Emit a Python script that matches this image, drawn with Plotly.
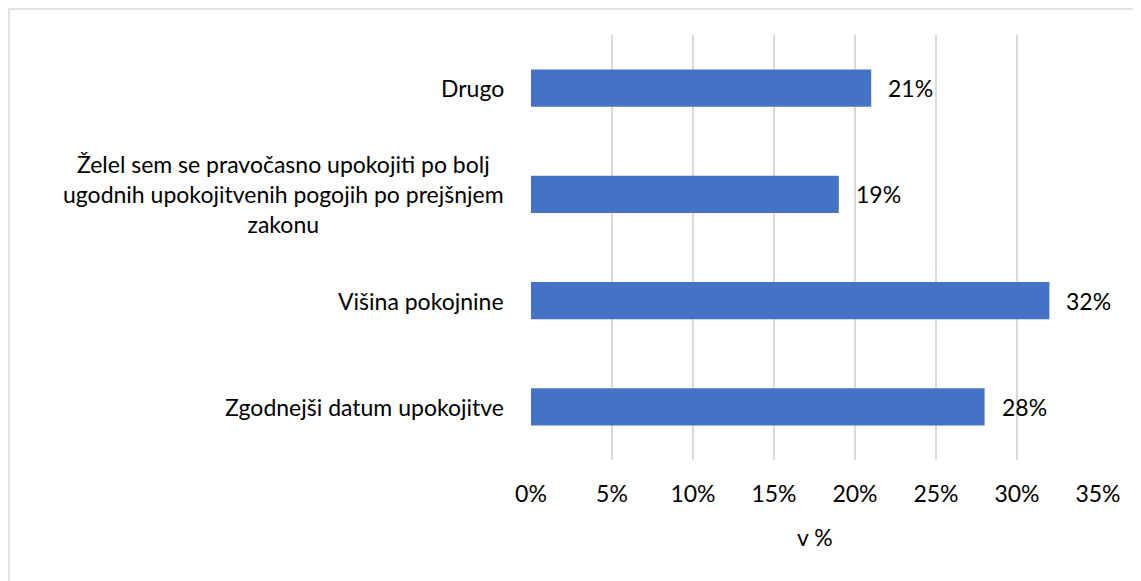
import plotly.graph_objects as go

categories = [
    "Zgodnejši datum upokojitve",
    "Višina pokojnine",
    "Želel sem se pravočasno upokojiti po bolj<br>ugodnih upokojitvenih pogojih po prejšnjem<br>zakonu",
    "Drugo",
]
values = [28, 32, 19, 21]
tick_vals = [0, 5, 10, 15, 20, 25, 30, 35]
tick_text = ["0%", "5%", "10%", "15%", "20%", "25%", "30%", "35%"]
axis_title = "v %"

# page body has an 8px margin, so the figure is 8px smaller than the window
OFF = 8
W, H = 1141 - OFF, 581 - OFF
L, R, T, B = 531 - OFF, 1098 - OFF, 35 - OFF, 460 - OFF
FONT = "Lato, Carlito, Calibri, sans-serif"
FS = 23

fig = go.Figure()
fig.add_trace(go.Bar(
    y=categories, x=values, orientation="h",
    marker=dict(color="#4472C4", line=dict(width=0)),
    width=0.35,
    cliponaxis=False,
    hoverinfo="skip",
))

# value labels
for c, v in zip(categories, values):
    fig.add_annotation(
        x=v, xref="x", y=c, yref="y",
        text=f"{v}%", showarrow=False,
        xanchor="left", yanchor="middle", xshift=15,
        font=dict(family=FONT, size=FS, color="black"),
    )

# category labels (centered multi-line)
for c in categories:
    fig.add_annotation(
        x=0, xref="paper", y=c, yref="y",
        text=c, showarrow=False, align="center",
        xanchor="right", yanchor="middle", xshift=-25,
        font=dict(family=FONT, size=FS, color="black"),
    )

pw = R - L
ph = B - T
fig.add_annotation(
    x=0.5, xref="paper", y=-(537 - OFF - B) / ph, yref="paper",
    text=axis_title, showarrow=False, xanchor="center", yanchor="middle",
    font=dict(family=FONT, size=FS, color="black"),
)

fig.add_shape(
    type="rect", xref="paper", yref="paper",
    x0=(1 - L) / pw, x1=(W + 20 - L) / pw,
    y0=-(H + 20 - B) / ph, y1=1 + (T - 1) / ph,
    line=dict(color="#d9d9d9", width=1.5), fillcolor="rgba(0,0,0,0)", layer="below",
)

fig.update_layout(
    width=W, height=H,
    margin=dict(l=L, r=W - R, t=T, b=H - B, pad=0),
    paper_bgcolor="white", plot_bgcolor="white",
    showlegend=False,
    font=dict(family=FONT, size=FS, color="black"),
)
fig.update_xaxes(
    range=[0, 35], tickvals=tick_vals, ticktext=tick_text,
    showgrid=True, gridcolor="#d9d9d9", gridwidth=2,
    zeroline=False, showline=False,
    ticks="outside", ticklen=13, tickcolor="rgba(0,0,0,0)",
    tickfont=dict(family=FONT, size=FS, color="black"),
    fixedrange=True,
)
fig.update_yaxes(
    showticklabels=False, showgrid=False, zeroline=False, showline=False,
    categoryorder="array", categoryarray=categories,
    fixedrange=True,
)

fig.write_html("out.html")
